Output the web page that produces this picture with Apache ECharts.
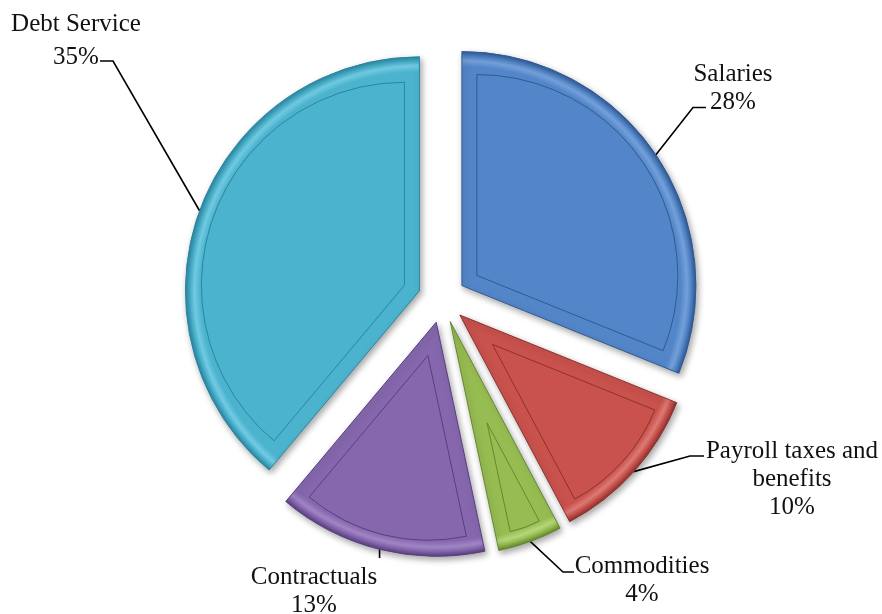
<!DOCTYPE html>
<html>
<head>
<meta charset="utf-8">
<script src="https://cdn.jsdelivr.net/npm/echarts@6/dist/echarts.min.js"></script>
<style>
html,body{margin:0;padding:0;background:#ffffff;}
#chart{width:882px;height:614px;}
</style>
</head>
<body>
<div id="chart"></div>
<script>
// ---- data ----
const categories = ['Salaries', 'Payroll taxes and\nbenefits', 'Commodities', 'Contractuals', 'Debt Service'];
const values = [28, 10, 4, 13, 35];

// ---- styles ----
const baseColors  = ['#5386C8', '#C9524D', '#97BD52', '#8667AE', '#4BB3CE'];
const lightColors = ['#74A0DA', '#DC7A74', '#B6D67A', '#A085C4', '#72CBE2'];
const darkColors  = ['#2F5A96', '#8E312D', '#66882F', '#583F80', '#2A86A2'];

// ---- layout ----
const CX = 442, CY = 299, R = 234, EXPLODE = 24, BEVEL = 15;
const labelSpots = [
  { x: 733, y: 88.5, lh: 28, line: [[693, 107.5], [706, 107.5]] },
  { x: 792, y: 479,  lh: 28, line: [[690, 456], [704, 456]] },
  { x: 642, y: 580,  lh: 28, line: [[563, 572], [574, 572]] },
  { x: 314, y: 591,  lh: 28, drop: 558 },
  { x: 76,  y: 40.5, lh: 33, line: [[113, 61], [100, 61]] }
];

const total = values.reduce((a, b) => a + b, 0);
let acc = 0;
const mids = values.map(v => { const m = (acc + v / 2) / total * 2 * Math.PI; acc += v; return m; });
const halfs = values.map(v => v / total * Math.PI);

const series = [];
categories.forEach((name, i) => {
  const s = Math.sin(mids[i]), c = Math.cos(mids[i]);
  const ox = CX + EXPLODE * s, oy = CY - EXPLODE * c;
  series.push({
    type: 'pie',
    silent: true,
    animation: false,
    avoidLabelOverlap: false,
    minShowLabelAngle: 0,
    startAngle: 90,
    clockwise: true,
    center: [ox, oy],
    radius: R,
    itemStyle: { borderWidth: 0 },
    emphasis: { disabled: true },
    label: {
      show: true, position: 'outside', alignTo: 'none',
      formatter: '{b}\n{c}%',
      fontFamily: 'Liberation Serif', fontSize: 25, color: '#111111',
      lineHeight: 28, width: 260, overflow: 'none'
    },
    labelLine: { show: true, length: 20, length2: 10, lineStyle: { color: '#000000', width: 1.6 } },
    labelLayout: function (p) {
      if (p.dataIndex !== i || !p.labelLinePoints) return {};
      const spot = labelSpots[i];
      const start = p.labelLinePoints[0];
      const pts = spot.drop != null ? [start, [start[0], spot.drop]] : [start].concat(spot.line);
      return { x: spot.x, y: spot.y, align: 'center', verticalAlign: 'middle', labelLinePoints: pts };
    },
    data: categories.map((n, j) => j === i ? {
      name: n, value: values[j],
      itemStyle: {
        color: {
          type: 'radial', x: ox, y: oy, r: R, global: true,
          colorStops: [
            { offset: 0, color: baseColors[i] },
            { offset: (R - BEVEL) / R, color: baseColors[i] },
            { offset: (R - BEVEL * 0.6) / R, color: lightColors[i] },
            { offset: (R - 5) / R, color: baseColors[i] },
            { offset: 1, color: darkColors[i] }
          ]
        },
        borderColor: darkColors[i], borderWidth: 1,
        shadowBlur: 6, shadowOffsetX: 2, shadowOffsetY: 3, shadowColor: 'rgba(0,0,0,0.35)'
      },
      label: { show: true, lineHeight: labelSpots[i].lh },
      labelLine: { show: true }
    } : {
      name: n, value: values[j],
      itemStyle: { color: 'transparent', borderWidth: 0, shadowBlur: 0 },
      label: { show: false }, labelLine: { show: false }
    })
  });
});

// inner bevel panels
categories.forEach((name, i) => {
  const s = Math.sin(mids[i]), c = Math.cos(mids[i]);
  const shift = BEVEL / Math.sin(halfs[i]);
  const d = EXPLODE + shift;
  const px = CX + d * s, py = CY - d * c;
  series.push({
    type: 'pie',
    silent: true,
    animation: false,
    startAngle: 90,
    clockwise: true,
    center: [px, py],
    radius: R - BEVEL - shift,
    emphasis: { disabled: true },
    label: { show: false },
    labelLine: { show: false },
    data: categories.map((n, j) => ({
      name: n, value: values[j],
      itemStyle: j === i
        ? { color: baseColors[i], borderColor: darkColors[i], borderWidth: 1 }
        : { color: 'transparent', borderWidth: 0 }
    }))
  });
});

const chart = echarts.init(document.getElementById('chart'));
chart.setOption({ backgroundColor: '#ffffff', series: series });
</script>
</body>
</html>
